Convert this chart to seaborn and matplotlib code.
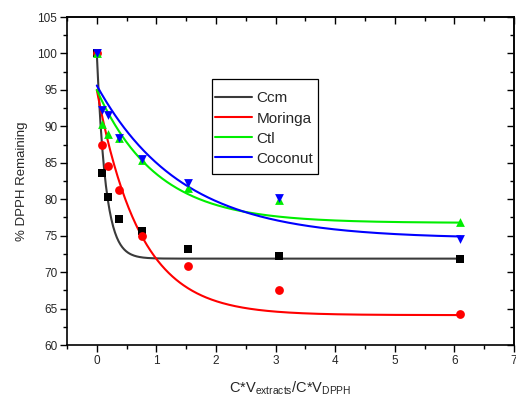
import numpy as np
import pandas as pd
import matplotlib
matplotlib.use("Agg")
import matplotlib.pyplot as plt
import seaborn as sns
from matplotlib.ticker import MultipleLocator
from matplotlib.patches import Rectangle

# ---- data ----
ratio = [0.0, 0.095, 0.19, 0.38, 0.76, 1.53, 3.05, 6.1]
ccm = [100.0, 83.6, 80.3, 77.3, 75.6, 73.2, 72.2, 71.8]
moringa = [100.0, 87.4, 84.5, 81.3, 75.0, 70.9, 67.6, 64.2]
ctl = [100.0, 90.3, 89.0, 88.4, 85.4, 81.5, 79.9, 76.9]
coconut = [100.0, 92.2, 91.6, 88.4, 85.5, 82.2, 80.1, 74.6]

series_names = ["Ccm", "Moringa", "Ctl", "Coconut"]
# exponential-decay fit parameters (y0, A, t)
fit_y0 = [71.85, 64.1, 76.75, 74.6]
fit_A = [28.15, 30.9, 18.25, 21.0]
fit_t = [0.148, 0.72, 1.0, 1.42]
fit_xmax = 6.1

line_colors = ["#3a3a3a", "#ff0000", "#00ee00", "#0000ff"]
marker_colors = ["#000000", "#ff0000", "#00ee00", "#0000ff"]
markers = ["s", "o", "^", "v"]

pts = pd.DataFrame({
    "x": ratio * 4,
    "y": ccm + moringa + ctl + coconut,
    "series": sum([[n] * len(ratio) for n in series_names], []),
})

xf = np.linspace(0, fit_xmax, 400)
fit_rows = []
for n, y0, a, t in zip(series_names, fit_y0, fit_A, fit_t):
    fit_rows.append(pd.DataFrame({"x": xf, "y": y0 + a * np.exp(-xf / t), "series": n}))
fits = pd.concat(fit_rows, ignore_index=True)

sns.set_style("white")
plt.rcParams["font.family"] = ["Liberation Sans", "DejaVu Sans"]
plt.rcParams["mathtext.fontset"] = "custom"
plt.rcParams["mathtext.rm"] = "Liberation Sans"

fig = plt.figure(figsize=(5.16, 3.96), dpi=100)
ax = fig.add_axes([67 / 516, 1 - 345 / 396, 447 / 516, 328 / 396])

sns.lineplot(data=fits, x="x", y="y", hue="series", hue_order=series_names,
             palette=line_colors, linewidth=1.5, ax=ax, legend=True, sort=False)
for n, mk, c in zip(series_names, markers, marker_colors):
    sub = pts[pts.series == n]
    sns.scatterplot(data=sub, x="x", y="y", marker=mk, color=c, s=40,
                    edgecolor=c, linewidth=0, ax=ax, legend=False, zorder=3)

ax.set_xlim(-0.5, 7)
ax.set_ylim(60, 105)
ax.xaxis.set_major_locator(MultipleLocator(1))
ax.xaxis.set_minor_locator(MultipleLocator(0.5))
ax.yaxis.set_major_locator(MultipleLocator(5))
ax.yaxis.set_minor_locator(MultipleLocator(2.5))
ax.tick_params(which="both", direction="out", bottom=True, left=True,
               top=False, right=False, labelsize=8.5, width=1, color="black", pad=2)
ax.tick_params(which="major", length=5)
ax.tick_params(which="minor", length=3)

for sp in ax.spines.values():
    sp.set_visible(True)
    sp.set_color("black")
    sp.set_linewidth(1.2)

secx = ax.secondary_xaxis("top")
secx.xaxis.set_major_locator(MultipleLocator(1))
secx.xaxis.set_minor_locator(MultipleLocator(0.5))
secx.tick_params(which="both", direction="in", labeltop=False, width=1, color="black")
secx.tick_params(which="major", length=5)
secx.tick_params(which="minor", length=3)
secx.spines["top"].set_linewidth(1.2)
secy = ax.secondary_yaxis("right")
secy.yaxis.set_major_locator(MultipleLocator(5))
secy.yaxis.set_minor_locator(MultipleLocator(2.5))
secy.tick_params(which="both", direction="in", labelright=False, width=1, color="black")
secy.tick_params(which="major", length=5)
secy.tick_params(which="minor", length=3)
secy.spines["right"].set_linewidth(1.2)

ax.set_ylabel("% DPPH Remaining", fontsize=9.5, labelpad=7)
ax.set_xlabel(r"C*V$_{\mathrm{extracts}}$/C*V$_{\mathrm{DPPH}}$", fontsize=10.5, labelpad=9)

# legend: entries without frame, box drawn separately (Origin-style padding)
handles, labels = ax.get_legend_handles_labels()
leg = ax.legend(handles, labels, loc="upper left",
                bbox_to_anchor=((215 - 67) / 447, (345 - 91.5) / 328),
                borderaxespad=0, borderpad=0, fontsize=11, frameon=False,
                handlelength=2.4, handletextpad=0.3, labelspacing=0.4, title=None)
box = Rectangle(((212 - 67) / 447, (345 - 174) / 328), (318 - 212) / 447, (174 - 79) / 328,
                transform=ax.transAxes, facecolor="white", edgecolor="black",
                linewidth=0.9, zorder=4)
ax.add_patch(box)
leg.set_zorder(5)

fig.savefig("out.png", dpi=100, facecolor="white")
